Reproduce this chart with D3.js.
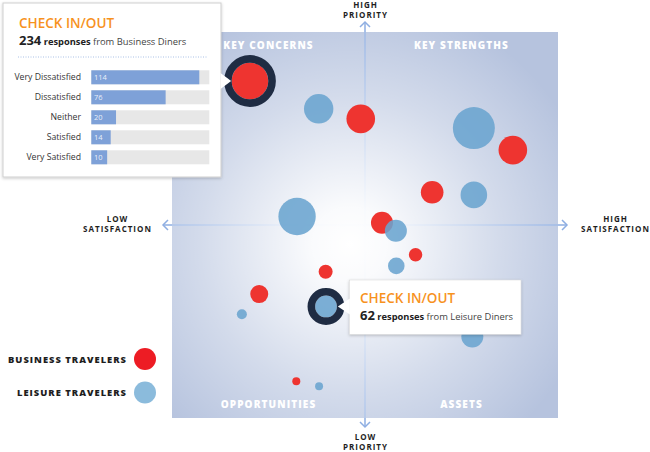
<!DOCTYPE html>
<html>
<head>
<meta charset="utf-8">
<script src="https://cdn.jsdelivr.net/npm/d3@7"></script>
<style>
  body { margin: 0; background: #fff; }
  svg { display: block; font-family: 'Open Sans', sans-serif; }
</style>
</head>
<body>
<svg id="chart"></svg>
<script>
// bubble data: satisfaction (x, 0-100), priority (y, 0-100), responses (size)
const bizSatisfaction = [20.2, 48.9, 88.3, 67.4, 54.4, 63.1, 39.8, 22.6, 32.2];
const bizPriority     = [87.3, 77.5, 69.4, 58.5, 50.6, 42.3, 37.9, 32.1, 9.5];
const bizResponses    = [234, 128, 128, 69, 64, 14, 16, 36, 1];

const leiSatisfaction = [38.0, 78.2, 78.2, 32.4, 58.0, 58.1, 18.1, 39.9, 77.8, 38.1];
const leiPriority     = [80.1, 75.1, 57.8, 52.2, 48.5, 39.4, 26.9, 28.9, 21.1, 8.2];
const leiResponses    = [137, 324, 106, 246, 64, 28, 4, 62, 64, 1];

// tooltip breakdown for Check In/Out (business)
const ratingLabels = ['Very Dissatisfied', 'Dissatisfied', 'Neither', 'Satisfied', 'Very Satisfied'];
const ratingCounts = [114, 76, 20, 14, 10];

const quadrantLabels = ['KEY CONCERNS', 'KEY STRENGTHS', 'OPPORTUNITIES', 'ASSETS'];
const seriesNames = ['BUSINESS TRAVELERS', 'LEISURE TRAVELERS'];

const W = 650, H = 452;
const plot = {left: 172, top: 32, size: 386};
const red = '#ee3430', blue = '#6aa4cf';

const svg = d3.select('#chart').attr('width', W).attr('height', H);

const xScale = d3.scaleLinear().domain([0, 100]).range([plot.left, plot.left + plot.size]);
const yScale = d3.scaleLinear().domain([0, 100]).range([plot.top + plot.size, plot.top]);
const rScale = d3.scaleSqrt().domain([0, 400]).range([3, 23]);

const defs = svg.append('defs');
const grad = defs.append('radialGradient')
    .attr('id', 'glow')
    .attr('gradientUnits', 'userSpaceOnUse')
    .attr('cx', xScale(46)).attr('cy', yScale(45)).attr('r', 250);
grad.append('stop').attr('offset', 0).attr('stop-color', '#fff').attr('stop-opacity', 1);
grad.append('stop').attr('offset', 0.15).attr('stop-color', '#fff').attr('stop-opacity', 0.93);
grad.append('stop').attr('offset', 0.6).attr('stop-color', '#fff').attr('stop-opacity', 0.4);
grad.append('stop').attr('offset', 1).attr('stop-color', '#fff').attr('stop-opacity', 0);

const shadow = defs.append('filter').attr('id', 'shadow')
    .attr('x', '-10%').attr('y', '-10%').attr('width', '120%').attr('height', '130%');
shadow.append('feDropShadow').attr('dx', 0).attr('dy', 1).attr('stdDeviation', 1.5)
    .attr('flood-color', '#000').attr('flood-opacity', 0.22);

// background square
svg.append('rect')
    .attr('x', plot.left).attr('y', plot.top)
    .attr('width', plot.size).attr('height', plot.size)
    .attr('fill', '#b6c3de');

// axis lines (under the glow so they fade at the centre)
const cx = xScale(50), cy = yScale(50);
const axisColor = '#8eaee2';
svg.append('line')
    .attr('x1', plot.left - 9).attr('x2', plot.left + plot.size + 9)
    .attr('y1', cy).attr('y2', cy)
    .attr('stroke', axisColor).attr('stroke-width', 1.5);
svg.append('line')
    .attr('x1', cx).attr('x2', cx)
    .attr('y1', plot.top - 10).attr('y2', plot.top + plot.size + 9)
    .attr('stroke', axisColor).attr('stroke-width', 1.5);

svg.append('rect')
    .attr('x', plot.left).attr('y', plot.top)
    .attr('width', plot.size).attr('height', plot.size)
    .attr('fill', 'url(#glow)');

// arrow heads
const head = 5;
const arrows = [
    [plot.left - 9, cy, 1, 0],
    [plot.left + plot.size + 9, cy, -1, 0],
    [cx, plot.top - 10, 0, 1],
    [cx, plot.top + plot.size + 9, 0, -1]
];
arrows.forEach(([ax, ay, dx, dy]) => {
    const p = dx !== 0
        ? `M${ax + dx * head},${ay - head}L${ax},${ay}L${ax + dx * head},${ay + head}`
        : `M${ax - head},${ay + dy * head}L${ax},${ay}L${ax + head},${ay + dy * head}`;
    svg.append('path').attr('d', p).attr('fill', 'none')
        .attr('stroke', axisColor).attr('stroke-width', 1.5);
});

// quadrant labels
const qPos = [[25, 95.6], [75, 95.6], [25, 2.6], [75, 2.6]];
svg.selectAll('.quad')
    .data(quadrantLabels)
    .join('text')
    .attr('class', 'quad')
    .attr('x', (d, i) => xScale(qPos[i][0]))
    .attr('y', (d, i) => yScale(qPos[i][1]))
    .attr('text-anchor', 'middle')
    .attr('font-size', 10).attr('font-weight', 800)
    .attr('letter-spacing', 1.1)
    .attr('fill', '#ffffff')
    .text(d => d);

// bubbles
const bizData = bizSatisfaction.map((s, i) => ({s, p: bizPriority[i], n: bizResponses[i]}));
const leiData = leiSatisfaction.map((s, i) => ({s, p: leiPriority[i], n: leiResponses[i]}));

svg.append('g').selectAll('circle')
    .data(bizData)
    .join('circle')
    .attr('cx', d => xScale(d.s)).attr('cy', d => yScale(d.p))
    .attr('r', d => rScale(d.n))
    .attr('fill', red);

svg.append('g').selectAll('circle')
    .data(leiData)
    .join('circle')
    .attr('cx', d => xScale(d.s)).attr('cy', d => yScale(d.p))
    .attr('r', d => rScale(d.n))
    .attr('fill', blue).attr('fill-opacity', 0.88);

// highlight rings on the selected bubbles
const selected = [bizData[0], leiData[7]];
svg.append('g').selectAll('circle')
    .data(selected)
    .join('circle')
    .attr('cx', d => xScale(d.s)).attr('cy', d => yScale(d.p))
    .attr('r', d => rScale(d.n) + 3.8)
    .attr('fill', 'none')
    .attr('stroke', '#1f2c43').attr('stroke-width', 7.6);

// subtitle like "234 responses from Business Diners"
function subtitle(g, x, y, count, who) {
    const t = g.append('text').attr('x', x).attr('y', y).attr('fill', '#222');
    t.append('tspan').attr('font-size', 13).attr('font-weight', 700).text(count);
    t.append('tspan').attr('font-size', 9.3).attr('font-weight', 700).text(' responses');
    t.append('tspan').attr('font-size', 9.4).attr('fill', '#444').text(' from ' + who);
}

// tooltip 1: business breakdown
const t1 = svg.append('g');
const b0 = selected[0];
const t1y = yScale(b0.p), t1tip = xScale(b0.s) - rScale(b0.n) - 0.5;
t1.append('rect')
    .attr('x', 3).attr('y', 3).attr('width', 218).attr('height', 174)
    .attr('fill', '#fff').attr('stroke', '#cfcfcf').attr('stroke-width', 1)
    .attr('filter', 'url(#shadow)');
t1.append('path')
    .attr('d', `M220.5,${t1y - 8}L${t1tip},${t1y}L220.5,${t1y + 8}Z`)
    .attr('fill', '#fff');
t1.append('text')
    .attr('x', 19).attr('y', 27.5)
    .attr('font-size', 13.5).attr('font-weight', 600)
    .attr('fill', '#f7921e')
    .text('CHECK IN/OUT');
subtitle(t1, 19, 45, d3.sum(ratingCounts), 'Business Diners');
t1.append('line')
    .attr('x1', 18).attr('x2', 207).attr('y1', 57).attr('y2', 57)
    .attr('stroke', '#a9c0e6').attr('stroke-width', 1)
    .attr('stroke-dasharray', '1,1.5');

// bars keep a small base width so the count fits inside
const barX = d3.scaleLinear().domain([0, 114]).range([7, 108]);
const barY = d3.scaleBand().domain(ratingLabels).range([67.3, 167.3]).paddingInner(0.3).paddingOuter(0.15);
const rows = t1.selectAll('.row')
    .data(ratingLabels)
    .join('g')
    .attr('class', 'row')
    .attr('transform', d => `translate(0,${barY(d)})`);
rows.append('rect')
    .attr('x', 91.3).attr('width', 118).attr('height', barY.bandwidth())
    .attr('fill', '#e7e7e7');
rows.append('rect')
    .attr('x', 91.3).attr('width', (d, i) => barX(ratingCounts[i])).attr('height', barY.bandwidth())
    .attr('fill', '#7ea1d8');
rows.append('text')
    .attr('x', 81).attr('y', barY.bandwidth() / 2 + 3.2)
    .attr('text-anchor', 'end').attr('font-size', 8.7).attr('fill', '#333')
    .text(d => d);
rows.append('text')
    .attr('x', 94).attr('y', barY.bandwidth() / 2 + 2.8)
    .attr('font-size', 7.5).attr('fill', '#fff').attr('fill-opacity', 0.85)
    .text((d, i) => ratingCounts[i]);

// tooltip 2: leisure
const t2 = svg.append('g');
const l0 = selected[1];
const t2y = yScale(l0.p), t2tip = xScale(l0.s) + rScale(l0.n) + 1;
t2.append('rect')
    .attr('x', 349.3).attr('y', 280).attr('width', 171.7).attr('height', 54.3)
    .attr('fill', '#fff').attr('stroke', '#d6d6d6').attr('stroke-width', 0.5)
    .attr('filter', 'url(#shadow)');
t2.append('path')
    .attr('d', `M349.8,${t2y - 8}L${t2tip},${t2y}L349.8,${t2y + 8}Z`)
    .attr('fill', '#fff');
t2.append('text')
    .attr('x', 360).attr('y', 302.5)
    .attr('font-size', 13.5).attr('font-weight', 600)
    .attr('fill', '#f7921e')
    .text('CHECK IN/OUT');
subtitle(t2, 360, 320, l0.n, 'Leisure Diners');

// axis titles
const axisTitles = [
    {x: cx, y: 8, lines: ['HIGH', 'PRIORITY']},
    {x: cx, y: 440, lines: ['LOW', 'PRIORITY']},
    {x: 117, y: 221.5, lines: ['LOW', 'SATISFACTION']},
    {x: 615, y: 221.5, lines: ['HIGH', 'SATISFACTION']}
];
axisTitles.forEach(t => {
    const txt = svg.append('text')
        .attr('text-anchor', 'middle')
        .attr('font-size', 8).attr('font-weight', 700)
        .attr('letter-spacing', 1).attr('fill', '#1e1e1e');
    t.lines.forEach((l, i) => {
        txt.append('tspan').attr('x', t.x + 0.5).attr('y', t.y + i * 10).text(l);
    });
});

// legend
const legendColors = ['#ed1c24', '#8bbbdc'];
const legend = svg.selectAll('.legend')
    .data(seriesNames)
    .join('g')
    .attr('class', 'legend')
    .attr('transform', (d, i) => `translate(145,${359 + i * 33.5})`);
legend.append('circle').attr('r', 11).attr('fill', (d, i) => legendColors[i]);
legend.append('text')
    .attr('x', -18).attr('y', 3.5)
    .attr('text-anchor', 'end')
    .attr('font-size', 9.4).attr('font-weight', 800)
    .attr('letter-spacing', 1).attr('fill', '#1e1e1e')
    .text(d => d);
</script>
</body>
</html>
